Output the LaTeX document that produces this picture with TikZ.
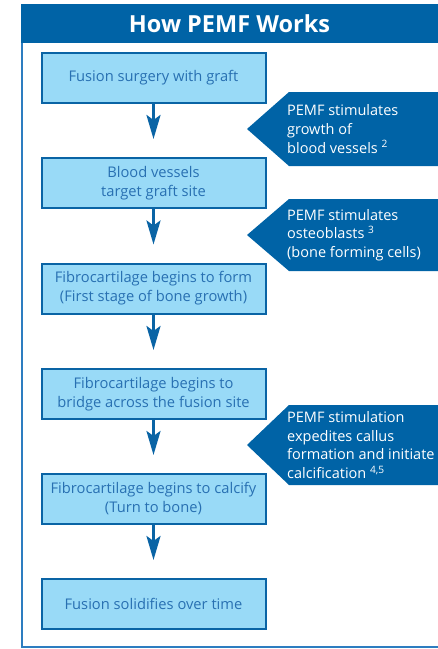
\documentclass[tikz,border=0pt]{standalone}
\usepackage{fontspec}
\setmainfont{Open Sans}
\usetikzlibrary{arrows.meta}
\definecolor{dkblue}{RGB}{0,99,166}
\definecolor{boxfill}{RGB}{153,218,247}
\definecolor{boxline}{RGB}{10,100,165}
\definecolor{boxtext}{RGB}{40,112,178}
\definecolor{frameline}{RGB}{45,125,192}
\tikzset{
  stepbox/.style={draw=boxline, line width=2pt, fill=boxfill, minimum width=224pt, minimum height=50pt,
    inner sep=0pt, align=center, text=boxtext, font=\fontsize{14.7}{19}\selectfont},
  flowarrow/.style={draw=boxline, line width=3pt, -{Stealth[length=24pt,width=14pt,inset=5pt]}, shorten >=18pt},
  callout/.style={fill=dkblue, draw=none},
  callouttext/.style={anchor=west, align=left, text=white, inner sep=0pt, font=\fontsize{14.5}{18.7}\selectfont},
}
\begin{document}
\begin{tikzpicture}[x=1pt,y=-1pt]
\useasboundingbox (0,0) rectangle (438,649);
% frame
\draw[frameline, line width=1.6pt] (22,40) -- (22,647) -- (438,647);
\fill[dkblue] (21,4) rectangle (438,43);
\node[text=white, font=\fontsize{23.5}{26}\bfseries\selectfont] (title) at (229.5,24) {How PEMF Works};
% boxes
\node[stepbox] (b1) at (153.5,78) {Fusion surgery with graft};
\node[stepbox] (b2) at (153.5,183) {Blood vessels\\target graft site};
\node[stepbox] (b3) at (153.5,288.5) {Fibrocartilage begins to form\\(First stage of bone growth)};
\node[stepbox] (b4) at (153.5,394) {Fibrocartilage begins to\\bridge across the fusion site};
\node[stepbox] (b5) at (153.5,499) {Fibrocartilage begins to calcify\\(Turn to bone)};
\node[stepbox] (b6) at (153.5,604) {Fusion solidifies over time};
% arrows
\draw[flowarrow] (b1) -- (b2);
\draw[flowarrow] (b2) -- (b3);
\draw[flowarrow] (b3) -- (b4);
\draw[flowarrow] (b4) -- (b5);
\draw[flowarrow] (b5) -- (b6);
% callouts
\fill[callout] (247,129) -- (289,92) -- (438,92) -- (438,166) -- (289,166) -- cycle;
\node[callouttext] (c1) at (287,129) {PEMF stimulates\\growth of\\blood vessels \textsuperscript{2}};
\fill[callout] (247,235) -- (289,199) -- (438,199) -- (438,271) -- (289,271) -- cycle;
\node[callouttext] (c2) at (287,235) {PEMF stimulates\\osteoblasts \textsuperscript{3}\\(bone forming cells)};
\fill[callout] (247,445) -- (289,405) -- (438,405) -- (438,485) -- (289,485) -- cycle;
\node[callouttext] (c3) at (287,445) {PEMF stimulation\\expedites callus\\formation and initiate\\calcification \textsuperscript{4,5}};
\end{tikzpicture}
\end{document}
